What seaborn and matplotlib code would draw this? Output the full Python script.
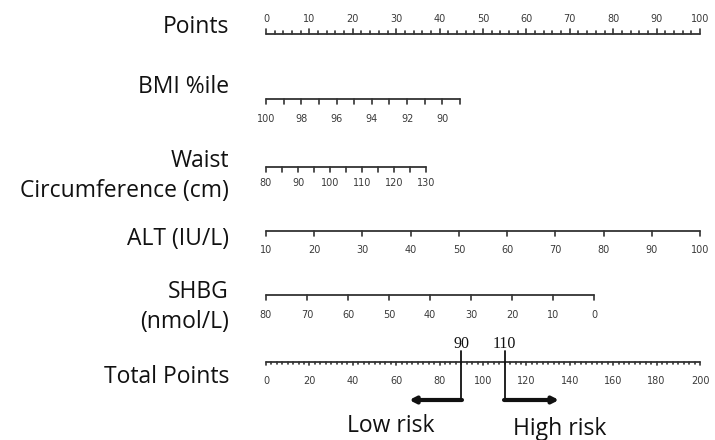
import numpy as np
import matplotlib
matplotlib.use("Agg")
import matplotlib.pyplot as plt
import seaborn as sns

# nomogram scales (value -> points, 0..100)
points_ticks = np.arange(0, 101, 2)
points_labels = np.arange(0, 101, 10)

bmi_ticks = np.arange(100, 88, -1)
bmi_labels = [100, 98, 96, 94, 92, 90]
bmi_range = (100, 89)
bmi_pts = (0, 44.7)

waist_ticks = np.arange(80, 131, 5)
waist_labels = [80, 90, 100, 110, 120, 130]
waist_range = (80, 130)
waist_pts = (0, 36.9)

alt_ticks = np.arange(10, 101, 10)
alt_labels = alt_ticks
alt_range = (10, 100)
alt_pts = (0, 100)

shbg_ticks = np.arange(80, -1, -10)
shbg_labels = shbg_ticks
shbg_range = (80, 0)
shbg_pts = (0, 75.6)

total_ticks = np.arange(0, 200.1, 2.5)
total_labels = np.arange(0, 201, 20)
total_range = (0, 200)
total_pts = (0, 100)

cutoffs = [90, 110]
low_end = 66
high_end = 135

row_names = ["Points", "BMI %ile", "Waist\nCircumference (cm)", "ALT (IU/L)",
             "SHBG\n(nmol/L)", "Total Points"]


def to_pts(v, rng, pts):
    v = np.asarray(v, dtype=float)
    return pts[0] + (v - rng[0]) / (rng[1] - rng[0]) * (pts[1] - pts[0])


sns.set_style("white")
plt.rcParams['font.family'] = ['Open Sans', 'DejaVu Sans']

fig = plt.figure(figsize=(7.15, 4.4), dpi=100)
ax = fig.add_axes([0, 0, 1, 1])
px = 4.34  # pixels per point
ax.set_xlim(-266 / px, (715 - 266) / px)
ax.set_ylim(440, 0)
ax.axis("off")

lc = "#333333"
tick_fs = 7


def draw_scale(y, ticks, labels, rng, pts, label_y, down=True, tlen=4, minor_len=None):
    xs = to_pts(ticks, rng, pts)
    sns.lineplot(x=[xs.min(), xs.max()], y=[y, y], ax=ax, color=lc, lw=1.3, sort=False)
    sgn = 1 if down else -1
    lab_set = set(np.round(np.asarray(labels, dtype=float), 3))
    for t, x in zip(ticks, xs):
        major = round(float(t), 3) in lab_set
        L = tlen if (major or minor_len is None) else minor_len
        ax.plot([x, x], [y, y + sgn * L], color=lc, lw=1.2)
    for t in labels:
        ax.text(to_pts(t, rng, pts), label_y, str(t), ha="center", va="center",
                fontsize=tick_fs, color="#3a3a3a", family="DejaVu Sans")


draw_scale(34, points_ticks, points_labels, (0, 100), (0, 100), 19, down=False, tlen=5, minor_len=2.5)
draw_scale(99, bmi_ticks, bmi_labels, bmi_range, bmi_pts, 119, tlen=5)
draw_scale(167, waist_ticks, waist_labels, waist_range, waist_pts, 183, tlen=5)
draw_scale(231, alt_ticks, alt_labels, alt_range, alt_pts, 250, tlen=5)
draw_scale(295, shbg_ticks, shbg_labels, shbg_range, shbg_pts, 315, tlen=5)
draw_scale(362, total_ticks, total_labels, total_range, total_pts, 381, tlen=3.5, minor_len=2.5)

# row labels
label_x = (229 - 266) / px
row_y = [27, 87, 176, 239, 307, 377]
for name, y in zip(row_names, row_y):
    ax.text(label_x, y, name, ha="right", va="center", fontsize=16.5,
            color="#111111", linespacing=1.38)

# cutoffs and risk arrows
for c in cutoffs:
    x = to_pts(c, total_range, total_pts)
    ax.plot([x, x], [351, 400], color="#111111", lw=1.3)
    ax.text(x, 344, str(c), ha="center", va="center", fontsize=11.5,
            family="Liberation Serif", color="#111111")

x90 = to_pts(cutoffs[0], total_range, total_pts)
x110 = to_pts(cutoffs[1], total_range, total_pts)
arrow = dict(arrowstyle="-|>,head_length=0.35,head_width=0.18", color="#111111",
             lw=3, shrinkA=0, shrinkB=0)
ax.annotate("", xy=(to_pts(low_end, total_range, total_pts), 400), xytext=(x90 + 0.15, 400),
            arrowprops=arrow)
ax.annotate("", xy=(to_pts(high_end, total_range, total_pts), 400), xytext=(x110 - 0.15, 400),
            arrowprops=arrow)

ax.text((391 - 266) / px, 426, "Low risk", ha="center", va="center", fontsize=16.5, color="#111111")
ax.text((560 - 266) / px, 429, "High risk", ha="center", va="center", fontsize=16.5, color="#111111")

fig.savefig("out.png", dpi=100)
